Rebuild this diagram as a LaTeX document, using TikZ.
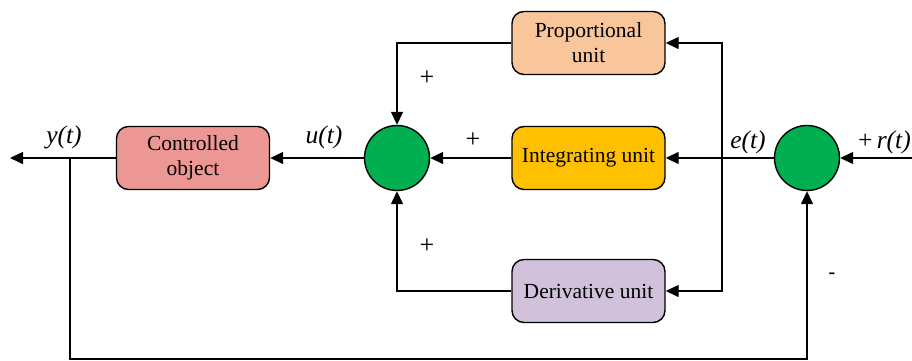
\documentclass[tikz,border=0pt]{standalone}
\usepackage{fontspec}
\setmainfont{Liberation Serif}
\usetikzlibrary{arrows.meta}
\definecolor{propc}{HTML}{F9C59B}
\definecolor{intc}{HTML}{FFC000}
\definecolor{derc}{HTML}{D1C1DB}
\definecolor{plantc}{HTML}{EC9793}
\definecolor{sumgreen}{HTML}{00B050}
\begin{document}
\begin{tikzpicture}[x=1pt,y=-1pt,
  block/.style={draw,line width=1.4pt,rounded corners=12pt,minimum width=153pt,
    minimum height=63pt,align=center,inner sep=0pt,
    font=\fontsize{21.5}{25}\selectfont},
  sumnode/.style={circle,draw,line width=1.4pt,fill=sumgreen,minimum size=65pt,inner sep=0pt},
  sig/.style={line width=1.4pt,-{Triangle[length=13pt,width=12pt]}},
  lbl/.style={font=\fontsize{25.5}{28}\selectfont\itshape,inner sep=0pt},
  sgn/.style={font=\fontsize{26}{28}\selectfont,inner sep=0pt}]
\useasboundingbox (0,0) rectangle (912,361);

% blocks
\node[block,fill=propc]  (prop)  at (588.5,43)  {Proportional\\unit};
\node[block,fill=intc]   (integ) at (588.5,158) {Integrating unit};
\node[block,fill=derc]   (deriv) at (588.5,291) {Derivative unit};
\node[block,fill=plantc] (plant) at (193,158)   {Controlled\\object};

% summing junctions
\node[sumnode] (s1) at (397,158) {};
\node[sumnode] (s2) at (807,158) {};

% free ends and branch points
\coordinate (rin)  at (912,158);
\coordinate (yout) at (10,158);
\coordinate (tap)  at (70,158);
\coordinate (br)   at (722,158);
\coordinate (fb)   at (70,359);

% signal paths
\draw[sig] (rin) -- (s2);
\draw[sig] (s2) -- (integ);
\draw[sig] (br) |- (prop);
\draw[sig] (br) |- (deriv);
\draw[sig] (prop) -| (s1);
\draw[sig] (integ) -- (s1);
\draw[sig] (deriv) -| (s1);
\draw[sig] (s1) -- (plant);
\draw[sig] (plant) -- (yout);
\draw[sig] (tap) -- (fb) -| (s2);

% signal labels
\node[lbl] (ly) at (64,137)  {y(t)};
\node[lbl] (lu) at (324,137) {u(t)};
\node[lbl] (le) at (748,142) {e(t)};
\node[lbl,anchor=east] (lr) at (911,142) {{\upshape +}\,r(t)};

% signs
\node[sgn] (p1) at (427,78)  {+};
\node[sgn] (p2) at (473,140) {+};
\node[sgn] (p3) at (427,246) {+};
\node[font=\fontsize{20}{22}\selectfont\bfseries,inner sep=0pt] (m1) at (832,276) {-};
\end{tikzpicture}
\end{document}
